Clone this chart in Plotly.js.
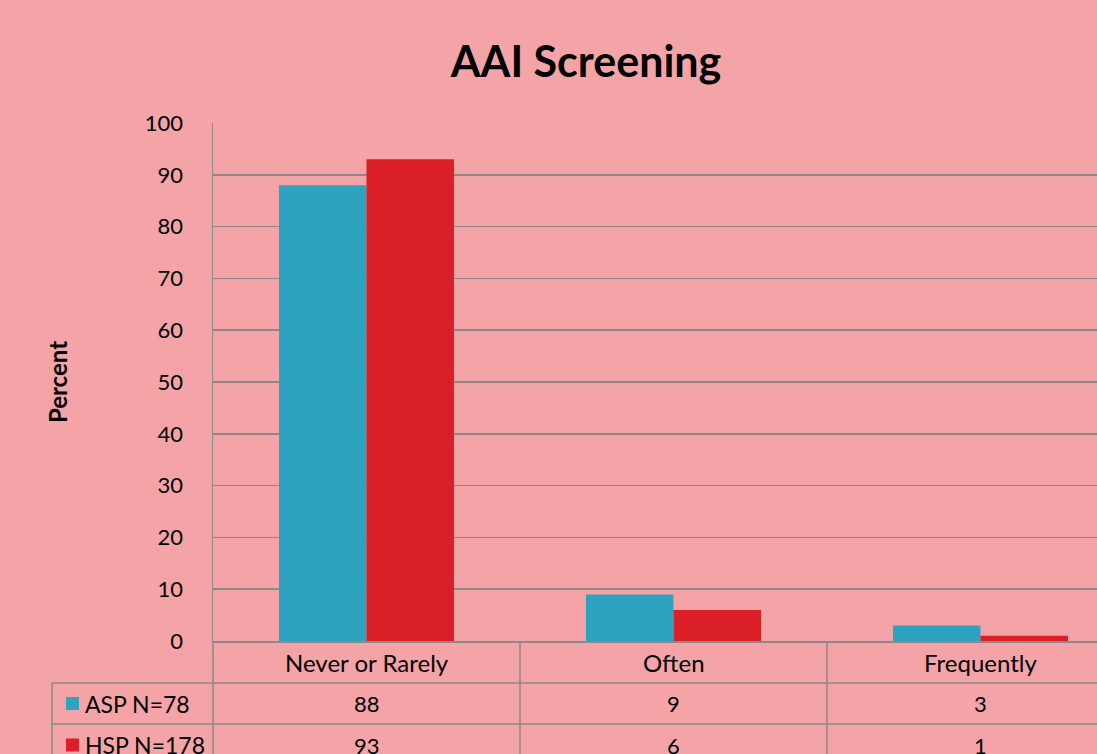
<!DOCTYPE html>
<html><head><meta charset="utf-8">
<script src="https://cdn.plot.ly/plotly-3.0.1.min.js"></script>
<style>html,body{margin:0;padding:0;overflow:hidden;background:#F4A4A6;}#chart{width:1172px;height:754px;}</style>
</head><body><div id="chart"></div>
<script>
var categories = ["Never or Rarely", "Often", "Frequently"];
var seriesNames = ["ASP N=78", "HSP N=178"];
var aspValues = [88, 9, 3];
var hspValues = [93, 6, 1];
var yTicks = [0, 10, 20, 30, 40, 50, 60, 70, 80, 90, 100];

var BG = "#F4A4A6", BLUE = "#2EA3C0", RED = "#DA1F28", GRID = "#8A8A8A";
var FONT = "Lato, 'Open Sans', sans-serif";

var traces = [
  {type: "bar", name: seriesNames[0], x: categories, y: aspValues, marker: {color: BLUE}, hoverinfo: "none"},
  {type: "bar", name: seriesNames[1], x: categories, y: hspValues, marker: {color: RED}, hoverinfo: "none"}
];

var plotH = 518, plotW = 921;
function py(px) { return (641 - px) / plotH; }
function pxx(px) { return (px - 213) / plotW; }
var row1 = py(683), row2 = py(724), row3 = py(766);
var shapes = [], annotations = [];
var lineStyle = {color: GRID, width: 1.5};
[row1, row2, row3].forEach(function (ry) {
  shapes.push({type: "line", xref: "paper", yref: "paper", x0: pxx(52), x1: 1, y0: ry, y1: ry, line: lineStyle});
});
for (var i = 0; i <= categories.length; i++) {
  shapes.push({type: "line", xref: "paper", yref: "paper", x0: i / categories.length, x1: i / categories.length, y0: 0, y1: row3, line: lineStyle});
}
shapes.push({type: "line", xref: "paper", yref: "paper", x0: pxx(52), x1: pxx(52), y0: row1, y1: row3, line: lineStyle});

var rows = [aspValues, hspValues];
var colors = [BLUE, RED];
var rowCenters = [(row1 + row2) / 2, (row2 + row3) / 2];
for (var r = 0; r < rows.length; r++) {
  var yc = rowCenters[r];
  var half = 6.5 / plotH;
  shapes.push({type: "rect", xref: "paper", yref: "paper", x0: pxx(66), x1: pxx(79), y0: yc - half, y1: yc + half, fillcolor: colors[r], line: {width: 0}});
  annotations.push({xref: "paper", yref: "paper", x: pxx(83), y: yc, xanchor: "left", yanchor: "middle", text: seriesNames[r], showarrow: false, font: {family: FONT, size: 23, color: "#000"}});
  for (var c = 0; c < categories.length; c++) {
    annotations.push({xref: "x", yref: "paper", x: categories[c], y: yc, xanchor: "center", yanchor: "middle", text: String(rows[r][c]), showarrow: false, font: {family: FONT, size: 22, color: "#000"}});
  }
}
for (var c = 0; c < categories.length; c++) {
  annotations.push({xref: "x", yref: "paper", x: categories[c], y: (0 + row1) / 2, xanchor: "center", yanchor: "middle", text: categories[c], showarrow: false, font: {family: FONT, size: 24, color: "#000"}});
}

var layout = {
  width: 1172, height: 754,
  paper_bgcolor: BG, plot_bgcolor: BG,
  margin: {l: 213, r: 38, t: 123, b: 113, pad: 0},
  showlegend: false,
  barmode: "group", bargap: 0.43, bargroupgap: 0,
  font: {family: FONT, color: "#000"},
  title: {text: "<b>AAI Screening</b>", x: 0.5, xanchor: "center", y: 1 - 62 / 754, yanchor: "middle", font: {family: FONT, size: 43, color: "#000"}},
  xaxis: {type: "category", showticklabels: false, ticks: "", showgrid: false, showline: true, linecolor: GRID, linewidth: 1.5, zeroline: false, fixedrange: true},
  yaxis: {range: [0, 100], tickvals: yTicks, ticktext: yTicks.map(String), showgrid: true, gridcolor: GRID, gridwidth: 1.5, showline: true, linecolor: GRID, linewidth: 1.5, zeroline: false, ticks: "", ticklabelstandoff: 24, tickfont: {family: FONT, size: 22, color: "#000"},
    title: {text: "<b>Percent</b>", standoff: 70, font: {family: FONT, size: 24, color: "#000"}}, fixedrange: true},
  shapes: shapes,
  annotations: annotations
};
Plotly.newPlot("chart", traces, layout, {displayModeBar: false, staticPlot: true});
</script></body></html>
